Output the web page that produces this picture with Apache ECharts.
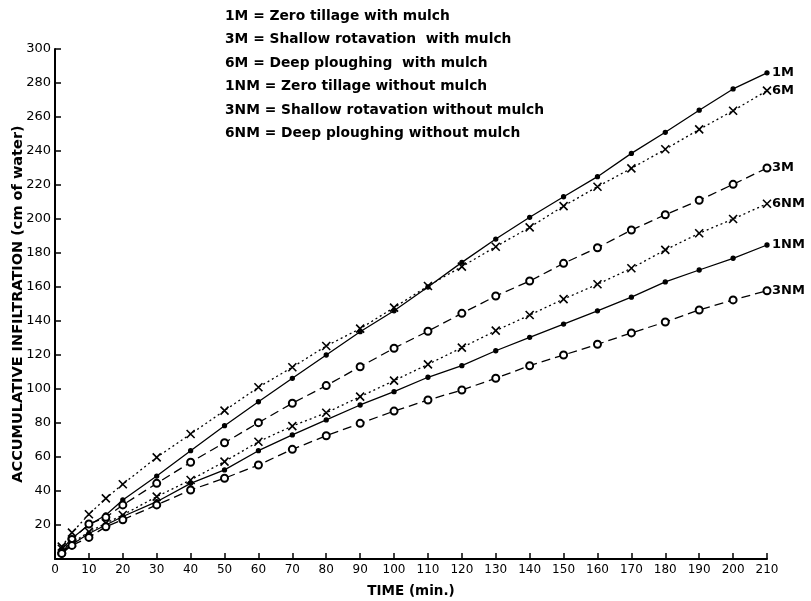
<!DOCTYPE html>
<html>
<head>
<meta charset="utf-8">
<script src="https://cdn.jsdelivr.net/npm/echarts@6/dist/echarts.min.js"></script>
<style>html,body{margin:0;padding:0;background:#fff}#c{width:811px;height:601px}</style>
</head>
<body>
<div id="c"></div>
<script>
const times = [2,5,10,15,20,30,40,50,60,70,80,90,100,110,120,130,140,150,160,170,180,190,200,210];
const s1M  = [5.5,12.2,20,25.9,34.7,48.8,63.7,78.4,92.5,106.3,120,133.7,146,160,174.5,188.2,201,213.1,224.9,238.6,251,264,276.5,286];
const s6M  = [7.3,15.5,26.3,35.7,44,59.8,73.5,87.3,101,112.8,125.3,135.5,147.9,160.6,172,183.7,195.1,207.6,219,229.8,241,252.7,263.7,275.5];
const s3M  = [3.3,11.5,20.6,24.5,31.8,44.5,56.9,68.4,80.2,91.6,102,113.1,124,134,144.5,154.7,163.5,173.9,183.1,193.5,202.5,211,220.4,230];
const s6NM = [6,9.4,16,21,25.9,36.7,46.5,57.3,69,78.2,86,95.5,104.9,114.5,124.3,134.3,143.5,152.9,161.6,171,181.8,191.6,200,209];
const s1NM = [4,8.5,15,20,25,33.7,44.5,52.4,63.7,73,81.8,90.6,98.4,106.9,113.7,122.5,130.4,138.2,146,154,163,170,176.9,184.7];
const s3NM = [3.3,8,12.7,19,23.1,31.8,40.6,47.5,55.3,64.5,72.5,79.8,87,93.5,99.4,106.3,113.7,120,126.3,133,139.4,146.5,152.4,157.8];
const seriesNames = ['1M','6M','3M','6NM','1NM','3NM'];
const legendLines = [
  '1M = Zero tillage with mulch',
  '3M = Shallow rotavation  with mulch',
  '6M = Deep ploughing  with mulch',
  '1NM = Zero tillage without mulch',
  '3NM = Shallow rotavation without mulch',
  '6NM = Deep ploughing without mulch'
];
const xTitle = 'TIME (min.)';
const yTitle = 'ACCUMULATIVE INFILTRATION (cm of water)';

const FONT = 'DejaVu Sans';
const crossPath = 'path://M0,0L10,10M10,0L0,10';
const styles = {
  '1M':  {symbol:'circle', size:4, dash:'solid'},
  '6M':  {symbol:crossPath, size:8, dash:[2,3]},
  '3M':  {symbol:'emptyCircle', size:7, dash:[9,5]},
  '6NM': {symbol:crossPath, size:8, dash:[2,3]},
  '1NM': {symbol:'circle', size:4, dash:'solid'},
  '3NM': {symbol:'emptyCircle', size:7, dash:[9,5]}
};
const values = {'1M':s1M,'6M':s6M,'3M':s3M,'6NM':s6NM,'1NM':s1NM,'3NM':s3NM};

const chart = echarts.init(document.getElementById('c'));
const series = seriesNames.map(n => {
  const st = styles[n];
  return {
    name: n,
    type: 'line',
    data: times.map((t,i) => [t, values[n][i]]),
    symbol: st.symbol,
    symbolSize: st.size,
    showAllSymbol: true,
    lineStyle: {color:'#000', width:1.3, type: st.dash},
    itemStyle: {color:'#000', borderColor:'#000', borderWidth: st.symbol===crossPath ? 1.6 : 1.3},
    endLabel: {show:true, formatter: n, color:'#000', fontFamily: FONT, fontSize:13, fontWeight:'bold', distance:5},
    emphasis: {disabled:true},
    animation: false,
    z: 3
  };
});

chart.setOption({
  backgroundColor:'#fff',
  animation:false,
  grid:{left:55, right:44, top:49, bottom:42, containLabel:false, outerBoundsMode:'none'},
  xAxis:{
    type:'value', min:0, max:210, interval:10,
    name: xTitle, nameLocation:'middle', nameGap:25, nameMoveOverlap:false,
    nameTextStyle:{color:'#000', fontFamily:FONT, fontSize:13.5, fontWeight:'bold'},
    axisLine:{lineStyle:{color:'#000', width:2}},
    axisTick:{inside:true, length:6, lineStyle:{color:'#000', width:1.5}},
    axisLabel:{color:'#000', fontFamily:FONT, fontSize:12, margin:5},
    splitLine:{show:false}
  },
  yAxis:{
    type:'value', min:0, max:300, interval:20,
    name: yTitle, nameLocation:'middle', nameGap:29, nameRotate:90, nameMoveOverlap:false,
    nameTextStyle:{color:'#000', fontFamily:FONT, fontSize:14.5, fontWeight:'bold'},
    axisLine:{show:true, lineStyle:{color:'#000', width:2}},
    axisTick:{show:true, inside:true, length:6, lineStyle:{color:'#000', width:1.5}},
    axisLabel:{color:'#000', fontFamily:FONT, fontSize:13, margin:4, formatter: v => v===0 ? '' : String(v)},
    splitLine:{show:false}
  },
  graphic: legendLines.map((t,i) => ({
    type:'text', left:225, top: 9 + i*23.5,
    style:{text:t, fill:'#000', font:'bold 13.8px "DejaVu Sans"'}
  })),
  series: series
});
</script>
</body>
</html>
